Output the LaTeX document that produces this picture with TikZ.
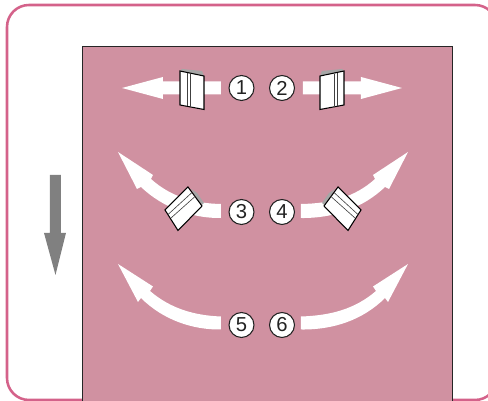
\documentclass[tikz,border=0pt]{standalone}
\usepackage{fontspec}
\setmainfont{Liberation Sans}
\usepackage{xcolor}
\definecolor{frame}{HTML}{D4628A}
\definecolor{panel}{HTML}{D091A1}
\definecolor{ink}{HTML}{222222}
\tikzset{num/.style={circle,draw=ink,fill=white,line width=0.6pt,minimum size=14.2pt,inner sep=0pt,
  font=\fontsize{11.5}{11.5}\selectfont,text=ink},
  flow/.style={fill=white,draw=none},
  flap/.style={fill=white,draw=black,line width=0.6pt,line join=miter},
  flapback/.style={fill=gray!70,draw=none},
  fold/.style={draw=black!75,line width=0.35pt}}

\begin{document}
\begin{tikzpicture}[x=0.02cm,y=-0.02cm]
\useasboundingbox (0,0) rectangle (488,401);
\clip (0,0) rectangle (488,401);
\draw[frame,line width=1.45pt,rounded corners=12.5pt] (7,5) rectangle (497,400);
\fill[panel] (82,46) rectangle (452,410);
\draw[black!85,line width=0.45pt] (82,410) -- (82,46) -- (452,46) -- (452,410);
% gray arrow
\fill[gray] (50,175) -- (61,175) -- (61,233) -- (66,233) -- (55.5,275) -- (44,233) -- (50,233) -- cycle;
% top row, mirrored round the middle
\foreach \side in {-1,1}{
\begin{scope}[shift={(262,0)},xscale=\side]
\fill[flow] (41,81.5) -- (99,81.5) -- (99,77) -- (140,88) -- (99,99) -- (99,94.5) -- (41,94.5) -- cycle;
\fill[flapback] (58,76) -- (60,71) -- (80,69) -- (82,71) -- cycle;
\draw[flap] (58,76) -- (82,71) -- (82,105) -- (58,109.5) -- cycle;
\draw[fold] (72,73.8) -- (72,107);
\draw[fold] (75,73.2) -- (75,106.4);
\end{scope}
}
% curved rows
\foreach \side/\tail in {-1/42,1/38}{
\begin{scope}[shift={(263,0)},xscale=\side]
\fill[flow] (\tail,204) .. controls (68,203.5) and (92,197) .. (112,179) -- (110,175) -- (145,152) -- (126,189) -- (122,187) .. controls (100,208) and (70,218.5) .. (\tail,218) -- cycle;
\fill[flapback] (62,206) -- (72,189) -- (66,193) -- (59,203) -- cycle;
\draw[flap] (75,187) -- (98,210) -- (85,230.5) -- (61,206) -- cycle;
\draw[fold] (71,192.5) -- (95.5,215);
\draw[fold] (68.5,197) -- (92,218);
\fill[flow] (\tail,316.5) .. controls (68,315.5) and (92,309) .. (113,291) -- (110,286.5) -- (145,264) -- (125,302) -- (122,298) .. controls (100,320) and (70,330) .. (\tail,329.5) -- cycle;
\end{scope}
}
\node[num] (one) at (241.5,88) {1};
\node[num] (two) at (282,88) {2};
\node[num] (three) at (241.5,212) {3};
\node[num] (four) at (282,212) {4};
\node[num] (five) at (241.5,325) {5};
\node[num] (six) at (282,325) {6};
\end{tikzpicture}
\end{document}
